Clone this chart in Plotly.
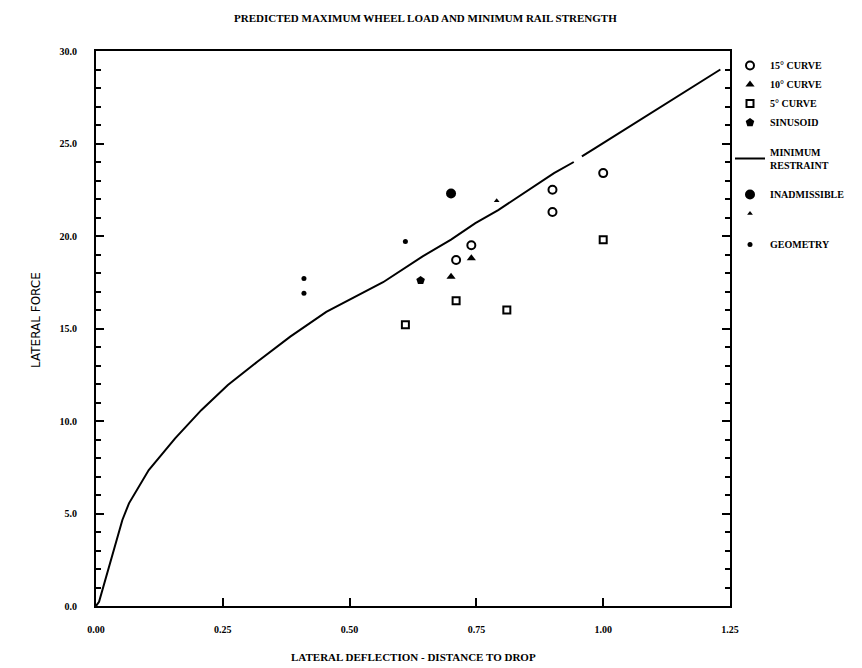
import plotly.graph_objects as go

# Minimum restraint curve (lateral deflection vs lateral force); None marks the break in the line
curve_x = [0.0, 0.006, 0.052, 0.065, 0.104, 0.156, 0.208, 0.26, 0.318, 0.383, 0.454, 0.50,
           0.566, 0.644, 0.70, 0.748, 0.793, 0.903, 0.942, None, 0.958, 0.981, 1.231]
curve_y = [0.0, 0.23, 4.65, 5.55, 7.35, 9.06, 10.6, 11.95, 13.2, 14.56, 15.9, 16.54,
           17.5, 18.9, 19.8, 20.7, 21.4, 23.4, 24.0, None, 24.3, 24.7, 29.0]

# Measured test points
curve15_x = [1.00, 0.90, 0.90, 0.74, 0.71]
curve15_y = [23.4, 22.5, 21.3, 19.5, 18.7]

curve10_x = [0.74, 0.70]
curve10_y = [18.8, 17.8]

curve5_x = [1.00, 0.71, 0.81, 0.61]
curve5_y = [19.8, 16.5, 16.0, 15.2]

sinusoid_x = [0.64]
sinusoid_y = [17.6]

inadmissible_x = [0.70]
inadmissible_y = [22.3]

small_tri_x = [0.79]
small_tri_y = [21.9]

geometry_x = [0.61, 0.41, 0.41]
geometry_y = [19.7, 17.7, 16.9]

x_ticks = [0.0, 0.25, 0.50, 0.75, 1.00, 1.25]
y_ticks = [0.0, 5.0, 10.0, 15.0, 20.0, 25.0, 30.0]

BLACK = "#000000"
serif = "Liberation Serif"
NBSP = "\u00a0"


def bold(s):
    return "<b>%s</b>" % s


# bold tick labels, pushed away from the frame (blank first line / trailing spaces)
x_ticktext = ["<br>" + bold("%.2f" % v) for v in x_ticks]
y_ticktext = [bold("%.1f" % v) + NBSP * 6 for v in y_ticks]

fig = go.Figure()

fig.add_trace(go.Scatter(x=curve15_x, y=curve15_y, mode="markers", name=bold("15° CURVE"), legendgroup="a",
                         marker=dict(symbol="circle-open", size=8, color=BLACK, line=dict(width=2, color=BLACK))))
fig.add_trace(go.Scatter(x=curve10_x, y=curve10_y, mode="markers", name=bold("10° CURVE"), legendgroup="a",
                         marker=dict(symbol="triangle-up", size=8, color=BLACK)))
fig.add_trace(go.Scatter(x=curve5_x, y=curve5_y, mode="markers", name=bold("5° CURVE"), legendgroup="a",
                         marker=dict(symbol="square-open", size=7, color=BLACK, line=dict(width=2, color=BLACK))))
fig.add_trace(go.Scatter(x=sinusoid_x, y=sinusoid_y, mode="markers", name=bold("SINUSOID"), legendgroup="a",
                         marker=dict(symbol="pentagon", size=9, color=BLACK)))
fig.add_trace(go.Scatter(x=curve_x, y=curve_y, mode="lines", name=bold("MINIMUM") + "<br>" + bold("RESTRAINT"),
                         legendgroup="b", line=dict(color=BLACK, width=2), connectgaps=False))
fig.add_trace(go.Scatter(x=inadmissible_x, y=inadmissible_y, mode="markers", name=bold("INADMISSIBLE"),
                         legendgroup="c", marker=dict(symbol="circle", size=10, color=BLACK)))
fig.add_trace(go.Scatter(x=small_tri_x, y=small_tri_y, mode="markers", name=" ", legendgroup="c",
                         marker=dict(symbol="triangle-up", size=5, color=BLACK)))
fig.add_trace(go.Scatter(x=geometry_x, y=geometry_y, mode="markers", name=bold("GEOMETRY"), legendgroup="d",
                         marker=dict(symbol="circle", size=5, color=BLACK)))

tick_font = dict(family=serif, size=10, color=BLACK)

fig.update_xaxes(range=[0, 1.25], tickvals=x_ticks, ticktext=x_ticktext,
                 showline=True, linecolor=BLACK, linewidth=2, mirror=True,
                 ticks="inside", ticklen=8, tickwidth=2, tickcolor=BLACK,
                 showgrid=False, zeroline=False, tickfont=tick_font)
fig.update_yaxes(range=[0, 30], tickvals=y_ticks, ticktext=y_ticktext,
                 showline=True, linecolor=BLACK, linewidth=2, mirror="ticks",
                 ticks="inside", ticklen=8, tickwidth=2, tickcolor=BLACK,
                 minor=dict(dtick=1, ticks="inside", ticklen=5, tickwidth=2, tickcolor=BLACK),
                 showgrid=False, zeroline=False, tickfont=tick_font)

fig.update_layout(
    width=862, height=668,
    margin=dict(l=96, r=124, t=51, b=62),
    plot_bgcolor="white", paper_bgcolor="white",
    showlegend=True,
    legend=dict(x=1.0, y=1.0, xanchor="left", yanchor="top", bgcolor="rgba(0,0,0,0)",
                font=dict(family=serif, size=10, color=BLACK),
                tracegroupgap=12, itemwidth=30),
    annotations=[
        dict(text=bold("PREDICTED MAXIMUM WHEEL LOAD AND MINIMUM RAIL STRENGTH"),
             xref="paper", yref="paper", x=0.52, y=1.059, xanchor="center", yanchor="middle",
             showarrow=False, font=dict(family=serif, size=11, color=BLACK)),
        dict(text=bold("LATERAL DEFLECTION - DISTANCE TO DROP"),
             xref="paper", yref="paper", x=0.50, y=-0.092, xanchor="center", yanchor="middle",
             showarrow=False, font=dict(family=serif, size=11, color=BLACK)),
        dict(text="LATERAL FORCE", textangle=-90,
             xref="paper", yref="paper", x=-0.095, y=0.515, xanchor="center", yanchor="middle",
             showarrow=False, font=dict(family="DejaVu Sans", size=12, color=BLACK)),
    ],
)

fig.write_html("out.html")
